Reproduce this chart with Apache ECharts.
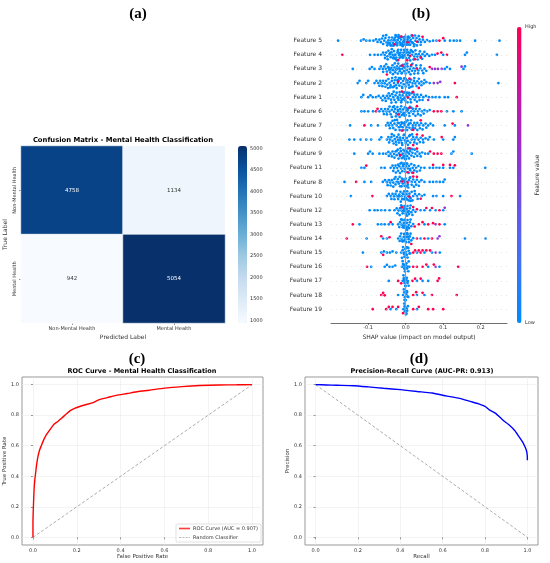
<!DOCTYPE html>
<html>
<head>
<meta charset="utf-8">
<script src="https://cdn.jsdelivr.net/npm/echarts@6.0.0/dist/echarts.min.js"></script>
<style>
  html, body { margin: 0; padding: 0; background: #fff; }
  #chart { width: 550px; height: 563px; }
</style>
</head>
<body>
<div id="chart"></div>
<script>
// ---- (a) confusion matrix ----
var predLabels = ['Non-Mental Health', 'Mental Health'];
var trueLabels = ['Non-Mental Health', 'Mental Health'];
var cmValues = [[4758, 1134], [942, 5054]];
var cmTicks = [1000, 1500, 2000, 2500, 3000, 3500, 4000, 4500, 5000];

// ---- (b) SHAP summary ----
var featureNames = ['Feature 5', 'Feature 4', 'Feature 3', 'Feature 2', 'Feature 1', 'Feature 6', 'Feature 7',
  'Feature 0', 'Feature 9', 'Feature 11', 'Feature 8', 'Feature 10', 'Feature 12', 'Feature 13', 'Feature 14',
  'Feature 15', 'Feature 16', 'Feature 17', 'Feature 18', 'Feature 19'];
var shapTicks = [-0.1, 0.0, 0.1, 0.2];

// low feature value (blue) points per feature
var shapLow = [
  [-0.18, -0.119, -0.112, -0.105, -0.096, -0.086, -0.079, -0.075, -0.07, -0.066, -0.063, -0.06, -0.057, -0.054, -0.051, -0.049,
   -0.046, -0.044, -0.042, -0.04, -0.038, -0.036, -0.034, -0.032, -0.03, -0.028, -0.027, -0.025, -0.023, -0.021, -0.02,
   -0.018, -0.016, -0.014, -0.012, -0.011, -0.009, -0.007, -0.005, -0.003, -0.001, 0.001, 0.003, 0.005, 0.007, 0.009,
   0.012, 0.014, 0.017, 0.02, 0.023, 0.026, 0.029, 0.033, 0.037, 0.041, 0.046, 0.051, 0.057, 0.064, 0.073, 0.082,
   0.104, 0.118, 0.128, 0.136, 0.145, 0.185, 0.25],
  [-0.095, -0.083, -0.074, -0.065, -0.06, -0.056, -0.052, -0.049, -0.046, -0.043, -0.04, -0.038, -0.035, -0.033, -0.031,
   -0.029, -0.027, -0.025, -0.022, -0.02, -0.018, -0.016, -0.014, -0.012, -0.01, -0.008, -0.006, -0.004, -0.002, 0.0,
   0.002, 0.004, 0.006, 0.009, 0.011, 0.014, 0.017, 0.02, 0.023, 0.027, 0.031, 0.035, 0.04, 0.045, 0.051, 0.057, 0.063,
   0.07, 0.078, 0.1, 0.158, 0.163, 0.243],
  [-0.141, -0.096, -0.09, -0.083, -0.07, -0.066, -0.061, -0.057, -0.053, -0.05, -0.047, -0.044, -0.041, -0.038, -0.035,
   -0.033, -0.03, -0.028, -0.025, -0.023, -0.021, -0.018, -0.016, -0.014, -0.011, -0.009, -0.007, -0.004, -0.002, 0.0,
   0.003, 0.005, 0.008, 0.011, 0.014, 0.017, 0.021, 0.025, 0.029, 0.034, 0.039, 0.044, 0.05, 0.055, 0.104, 0.11, 0.118,
   0.154, 0.158],
  [-0.128, -0.123, -0.105, -0.1, -0.083, -0.078, -0.073, -0.068, -0.064, -0.06, -0.056, -0.052, -0.049, -0.046, -0.043,
   -0.04, -0.037, -0.034, -0.031, -0.029, -0.026, -0.024, -0.021, -0.019, -0.017, -0.014, -0.012, -0.01, -0.007, -0.005,
   -0.003, 0.0, 0.002, 0.005, 0.008, 0.011, 0.014, 0.018, 0.022, 0.026, 0.031, 0.036, 0.042, 0.048, 0.055, 0.064, 0.247],
  [-0.118, -0.113, -0.1, -0.094, -0.088, -0.079, -0.072, -0.066, -0.06, -0.055, -0.05, -0.046, -0.042, -0.039, -0.036,
   -0.033, -0.03, -0.027, -0.024, -0.021, -0.019, -0.016, -0.013, -0.011, -0.008, -0.006, -0.003, -0.001, 0.002, 0.004,
   0.007, 0.01, 0.013, 0.016, 0.019, 0.023, 0.027, 0.031, 0.036, 0.041, 0.047, 0.054, 0.062, 0.071, 0.08, 0.09, 0.104,
   0.113],
  [-0.118, -0.11, -0.1, -0.087, -0.07, -0.065, -0.06, -0.055, -0.051, -0.047, -0.043, -0.04, -0.037, -0.034, -0.031,
   -0.028, -0.025, -0.022, -0.02, -0.017, -0.015, -0.012, -0.01, -0.007, -0.005, -0.002, 0.0, 0.003, 0.006, 0.009, 0.012,
   0.015, 0.019, 0.023, 0.027, 0.032, 0.037, 0.043, 0.05, 0.057, 0.064, 0.11, 0.127, 0.149],
  [-0.148, -0.092, -0.074, -0.052, -0.048, -0.044, -0.04, -0.036, -0.033, -0.03, -0.027, -0.024, -0.021, -0.018, -0.016,
   -0.013, -0.011, -0.008, -0.006, -0.003, -0.001, 0.002, 0.004, 0.007, 0.01, 0.013, 0.016, 0.019, 0.023, 0.027, 0.031,
   0.036, 0.041, 0.047, 0.053, 0.06, 0.066, 0.073, 0.104, 0.131],
  [-0.15, -0.137, -0.12, -0.105, -0.092, -0.07, -0.065, -0.05, -0.046, -0.042, -0.038, -0.035, -0.032, -0.029, -0.026,
   -0.023, -0.02, -0.018, -0.015, -0.012, -0.01, -0.007, -0.005, -0.002, 0.0, 0.003, 0.006, 0.009, 0.012, 0.016, 0.02,
   0.024, 0.029, 0.034, 0.04, 0.046, 0.053, 0.06, 0.064, 0.075, 0.1, 0.127, 0.131],
  [-0.137, -0.1, -0.095, -0.088, -0.07, -0.06, -0.052, -0.046, -0.04, -0.035, -0.031, -0.027, -0.024, -0.021, -0.018,
   -0.015, -0.013, -0.01, -0.008, -0.006, -0.004, -0.002, 0.0, 0.002, 0.004, 0.006, 0.009, 0.012, 0.015, 0.018, 0.022,
   0.026, 0.031, 0.037, 0.044, 0.052, 0.06, 0.122, 0.127, 0.176],
  [-0.118, -0.11, -0.065, -0.056, -0.04, -0.035, -0.031, -0.027, -0.023, -0.02, -0.017, -0.014, -0.012, -0.009, -0.007,
   -0.005, -0.003, -0.001, 0.001, 0.003, 0.006, 0.009, 0.012, 0.015, 0.019, 0.023, 0.028, 0.034, 0.041, 0.05, 0.064,
   0.073, 0.082, 0.09, 0.1, 0.118, 0.127, 0.212],
  [-0.163, -0.11, -0.092, -0.061, -0.055, -0.05, -0.045, -0.041, -0.037, -0.033, -0.03, -0.027, -0.024, -0.021, -0.018,
   -0.015, -0.013, -0.01, -0.008, -0.005, -0.003, 0.0, 0.003, 0.006, 0.009, 0.012, 0.016, 0.02, 0.025, 0.03, 0.036,
   0.042, 0.05, 0.064, 0.073, 0.082, 0.091, 0.1, 0.104],
  [-0.146, -0.05, -0.045, -0.04, -0.035, -0.031, -0.027, -0.023, -0.02, -0.017, -0.014, -0.011, -0.009, -0.006, -0.004,
   -0.002, 0.0, 0.002, 0.004, 0.007, 0.01, 0.013, 0.016, 0.02, 0.025, 0.03, 0.036, 0.043, 0.05, 0.073, 0.082, 0.1, 0.145],
  [-0.096, -0.083, -0.075, -0.065, -0.055, -0.043, -0.03, -0.024, -0.019, -0.015, -0.011, -0.008, -0.005, -0.003, -0.001,
   0.001, 0.003, 0.005, 0.008, 0.011, 0.015, 0.02, 0.026, 0.04, 0.05, 0.065, 0.08, 0.1],
  [-0.123, -0.074, -0.065, -0.056, -0.045, -0.035, -0.02, -0.015, -0.011, -0.008, -0.005, -0.003, -0.001, 0.001, 0.003,
   0.005, 0.008, 0.011, 0.015, 0.02, 0.05, 0.104],
  [-0.104, -0.06, -0.05, -0.02, -0.015, -0.011, -0.008, -0.005, -0.003, -0.001, 0.001, 0.003, 0.005, 0.008, 0.011, 0.015,
   0.02, 0.04, 0.06, 0.158, 0.213],
  [-0.114, -0.065, -0.058, -0.05, -0.042, -0.035, -0.025, -0.012, -0.008, -0.005, -0.003, -0.001, 0.001, 0.003, 0.005,
   0.008, 0.012, 0.03, 0.05, 0.07, 0.091],
  [-0.092, -0.056, -0.05, -0.043, -0.035, -0.028, -0.01, -0.007, -0.004, -0.002, 0.0, 0.002, 0.004, 0.007, 0.01, 0.06,
   0.09],
  [-0.045, -0.008, -0.005, -0.003, -0.001, 0.001, 0.003, 0.005, 0.008, 0.03, 0.045, 0.06],
  [-0.02, -0.007, -0.004, -0.002, 0.0, 0.002, 0.004, 0.007, 0.03, 0.05],
  [-0.04, -0.025, -0.006, -0.003, -0.001, 0.001, 0.003, 0.006, 0.03]
];
// more low-value points in the dense middle of each row
var shapLowDense = [
  [-0.06, -0.052, -0.047, -0.043, -0.039, -0.035, -0.031, -0.029, -0.026, -0.024, -0.022, -0.019, -0.017, -0.015, -0.013,
   -0.01, -0.008, -0.006, -0.004, -0.002, 0.0, 0.002, 0.004, 0.006, 0.008, 0.01, 0.013, 0.016, 0.019, 0.022, 0.025, 0.03,
   0.035, 0.04],
  [-0.055, -0.048, -0.042, -0.037, -0.032, -0.028, -0.024, -0.021, -0.017, -0.013, -0.009, -0.005, -0.001, 0.003, 0.007,
   0.012, 0.016, 0.021, 0.026, 0.032, 0.038, 0.044, 0.05],
  [-0.06, -0.052, -0.045, -0.039, -0.034, -0.029, -0.024, -0.02, -0.015, -0.01, -0.006, -0.001, 0.004, 0.009, 0.013,
   0.018, 0.023, 0.028, 0.033, 0.04, 0.047],
  [-0.07, -0.062, -0.054, -0.047, -0.041, -0.036, -0.031, -0.027, -0.022, -0.018, -0.013, -0.009, -0.004, 0.0, 0.004,
   0.009, 0.013, 0.018, 0.023, 0.029, 0.035, 0.042, 0.05],
  [-0.062, -0.053, -0.045, -0.038, -0.032, -0.026, -0.021, -0.016, -0.012, -0.007, -0.003, 0.001, 0.005, 0.009, 0.014,
   0.019, 0.024, 0.03, 0.037, 0.045],
  [-0.058, -0.05, -0.043, -0.037, -0.031, -0.026, -0.021, -0.016, -0.012, -0.007, -0.003, 0.001, 0.005, 0.01, 0.015,
   0.02, 0.026, 0.033, 0.04, 0.048],
  [-0.042, -0.035, -0.029, -0.023, -0.018, -0.013, -0.009, -0.004, 0.0, 0.005, 0.009, 0.014, 0.019, 0.025, 0.031, 0.038,
   0.045, 0.055],
  [-0.044, -0.037, -0.031, -0.025, -0.019, -0.014, -0.009, -0.004, 0.001, 0.006, 0.011, 0.017, 0.023, 0.03, 0.038, 0.047],
  [-0.045, -0.037, -0.03, -0.024, -0.019, -0.014, -0.01, -0.006, -0.002, 0.001, 0.005, 0.009, 0.013, 0.018, 0.024, 0.031,
   0.04],
  [-0.033, -0.026, -0.02, -0.015, -0.011, -0.007, -0.003, 0.0, 0.004, 0.008, 0.012, 0.017, 0.023, 0.03, 0.038],
  [-0.048, -0.04, -0.033, -0.027, -0.021, -0.016, -0.011, -0.006, -0.002, 0.002, 0.007, 0.011, 0.016, 0.022, 0.028, 0.035],
  [-0.038, -0.03, -0.024, -0.018, -0.013, -0.008, -0.004, 0.0, 0.004, 0.008, 0.013, 0.018, 0.024, 0.032],
  [-0.022, -0.016, -0.012, -0.009, -0.006, -0.004, -0.002, 0.0, 0.002, 0.004, 0.006, 0.009, 0.013, 0.018],
  [-0.017, -0.012, -0.009, -0.006, -0.004, -0.002, 0.0, 0.002, 0.004, 0.006, 0.009, 0.013],
  [-0.016, -0.012, -0.009, -0.006, -0.004, -0.002, 0.0, 0.002, 0.004, 0.006, 0.009, 0.013],
  [-0.01, -0.007, -0.004, -0.002, 0.0, 0.002, 0.004, 0.007, 0.01],
  [-0.008, -0.005, -0.003, -0.001, 0.001, 0.003, 0.005, 0.008],
  [-0.006, -0.004, -0.002, 0.0, 0.002, 0.004, 0.006],
  [-0.005, -0.003, -0.001, 0.001, 0.003, 0.005],
  [-0.004, -0.002, 0.0, 0.002, 0.004]
];
// high feature value (red) points per feature
var shapHigh = [
  [-0.03, -0.012, 0.005, 0.018, 0.03, 0.045, 0.09, 0.1],
  [-0.169, -0.02, 0.004, 0.012, 0.025, 0.04, 0.085, 0.095, 0.11],
  [-0.05, -0.01, 0.015, 0.03, 0.064],
  [-0.02, 0.01, 0.035, 0.131],
  [-0.01, 0.005, 0.02, 0.136],
  [-0.079, -0.075, -0.02, 0.01, 0.03, 0.075, 0.085, 0.095],
  [-0.11, -0.01, 0.02, 0.04, 0.125],
  [0.02, 0.03, 0.045, 0.096],
  [-0.015, 0.01, 0.03, 0.065, 0.075, 0.085, 0.095],
  [-0.105, 0.005, 0.02, 0.073, 0.1, 0.118, 0.131],
  [-0.132, -0.01, 0.005, 0.02, 0.03],
  [-0.089, 0.01, 0.04, 0.122],
  [-0.01, 0.02, 0.03, 0.055, 0.07, 0.09],
  [-0.141, -0.04, 0.024, 0.035, 0.045, 0.06, 0.073, 0.09],
  [-0.157, -0.065, -0.043, 0.015, 0.03, 0.05, 0.07],
  [-0.06, 0.02, 0.025, 0.035, 0.04, 0.045, 0.055, 0.065],
  [-0.103, 0.02, 0.03, 0.045, 0.055, 0.075, 0.14],
  [-0.02, -0.012, 0.018, 0.025, 0.04, 0.085, 0.089],
  [-0.065, -0.06, -0.056, 0.02, 0.028, 0.045, 0.07, 0.136],
  [-0.088, -0.052, -0.045, -0.035, -0.02, -0.007, 0.02, 0.035, 0.06, 0.073, 0.1]
];
// mid feature value (purple) points per feature
var shapMid = [
  [], [], [0.07, 0.078, 0.086, 0.096, 0.149], [0.075, 0.085, 0.092], [0.06], [], [0.166], [], [], [], [], [],
  [0.104], [0.08], [0.085, 0.09], [0.08], [0.08], [], [], []
];

// ---- (c) ROC ----
var rocFpr = [0, 0, 0.002, 0.005, 0.008, 0.012, 0.017, 0.023, 0.03, 0.038, 0.048, 0.06, 0.075, 0.09, 0.1, 0.115, 0.13,
  0.15, 0.17, 0.19, 0.21, 0.24, 0.27, 0.3, 0.34, 0.38, 0.43, 0.48, 0.53, 0.6, 0.68, 0.76, 0.85, 0.93, 1.0];
var rocTpr = [0, 0.1, 0.2, 0.31, 0.37, 0.42, 0.48, 0.53, 0.57, 0.6, 0.635, 0.67, 0.7, 0.73, 0.745, 0.76, 0.78, 0.805,
  0.83, 0.845, 0.855, 0.868, 0.88, 0.9, 0.915, 0.93, 0.942, 0.955, 0.963, 0.977, 0.987, 0.994, 0.998, 0.999, 1.0];

// ---- (d) Precision-Recall ----
var prRecall = [0, 0.05, 0.1, 0.18, 0.25, 0.32, 0.4, 0.48, 0.55, 0.62, 0.68, 0.73, 0.77, 0.8, 0.82, 0.85, 0.885, 0.91,
  0.94, 0.96, 0.977, 0.988, 0.995, 0.999, 1.0];
var prPrecision = [1.0, 0.998, 0.996, 0.993, 0.985, 0.976, 0.967, 0.955, 0.945, 0.925, 0.91, 0.89, 0.874, 0.858, 0.835,
  0.812, 0.767, 0.74, 0.7, 0.66, 0.625, 0.595, 0.57, 0.54, 0.505];
var unitTicks = [0, 0.2, 0.4, 0.6, 0.8, 1.0];

var blues = ['#f7fbff', '#deebf7', '#c6dbef', '#9ecae1', '#6baed6', '#4292c6', '#2171b5', '#08519c', '#08306b'];
var shapColors = ['#008bfb', '#3f74f6', '#6a52ea', '#9a2ccb', '#cc149a', '#ff0052'];
var FONT = 'DejaVu Sans';
var SERIF = 'Liberation Serif';

var cmData = [];
for (var r = 0; r < trueLabels.length; r++) {
  for (var c = 0; c < predLabels.length; c++) {
    var v = cmValues[r][c];
    cmData.push({ value: [c, r, v], label: { color: v > 3000 ? '#ffffff' : '#333333' } });
  }
}

var shapData = [];
featureNames.forEach(function (name, i) {
  shapLow[i].concat(shapLowDense[i]).forEach(function (s) { shapData.push([s, name, 0]); });
  shapMid[i].forEach(function (s) { shapData.push([s, name, 0.55]); });
  shapHigh[i].forEach(function (s) { shapData.push([s, name, 1]); });
});

function pairs(xs, ys) {
  return xs.map(function (x, i) { return [x, ys[i]]; });
}

var tickLabel = { fontFamily: FONT, fontSize: 5, color: '#333' };
var fmt1 = function (v) { return v.toFixed(1); };

function unitAxis(gridIndex, name, nameGap) {
  return {
    type: 'value', gridIndex: gridIndex, min: -0.05, max: 1.05,
    name: name, nameLocation: 'middle', nameGap: nameGap,
    nameTextStyle: { fontFamily: FONT, fontSize: 5.5, color: '#333' },
    axisLine: { show: false },
    axisTick: { show: true, length: 2, lineStyle: { color: '#555', width: 0.6 }, customValues: unitTicks },
    axisLabel: Object.assign({ margin: 3, formatter: fmt1, customValues: unitTicks }, tickLabel),
    splitLine: { show: true, lineStyle: { color: '#ebebeb', width: 0.6 } }
  };
}

var panelLabel = { fontFamily: SERIF, fontSize: 15, fontWeight: 'bold', color: '#000' };

var chart = echarts.init(document.getElementById('chart'));

var option = {
  backgroundColor: '#fff',
  animation: false,
  textStyle: { fontFamily: FONT },
  title: [
    { text: '(a)', left: 133, top: 2, textAlign: 'center', textStyle: panelLabel },
    { text: '(b)', left: 416, top: 2, textAlign: 'center', textStyle: panelLabel },
    { text: '(c)', left: 132, top: 347, textAlign: 'center', textStyle: panelLabel },
    { text: '(d)', left: 414, top: 347, textAlign: 'center', textStyle: panelLabel },
    { text: 'Confusion Matrix - Mental Health Classification', left: 123, top: 137, textAlign: 'center', padding: 0,
      textStyle: { fontFamily: FONT, fontSize: 6.8, fontWeight: 'bold', color: '#000' } },
    { text: 'ROC Curve - Mental Health Classification', left: 142, top: 368, textAlign: 'center', padding: 0,
      textStyle: { fontFamily: FONT, fontSize: 6.5, fontWeight: 'bold', color: '#000' } },
    { text: 'Precision-Recall Curve (AUC-PR: 0.913)', left: 422, top: 368, textAlign: 'center', padding: 0,
      textStyle: { fontFamily: FONT, fontSize: 6.5, fontWeight: 'bold', color: '#000' } }
  ],
  grid: [
    { left: 21, top: 146, width: 204, height: 177 },
    { left: 238, top: 146, width: 9, height: 177 },
    { left: 331, top: 33.6, width: 176, height: 282.6 },
    { left: 22, top: 377, width: 241, height: 168, show: true, borderColor: '#999', borderWidth: 1 },
    { left: 305, top: 377, width: 233, height: 168, show: true, borderColor: '#999', borderWidth: 1 }
  ],
  xAxis: [
    { type: 'category', gridIndex: 0, data: predLabels, position: 'bottom',
      name: 'Predicted Label', nameLocation: 'middle', nameGap: 11,
      nameTextStyle: { fontFamily: FONT, fontSize: 6, color: '#333' },
      axisLine: { show: false },
      axisTick: { show: true, alignWithLabel: true, length: 2, lineStyle: { color: '#555', width: 0.6 } },
      axisLabel: Object.assign({ margin: 3 }, tickLabel),
      splitLine: { show: false } },
    { type: 'value', gridIndex: 1, show: false, min: 0, max: 1 },
    { type: 'value', gridIndex: 2, min: -0.199, max: 0.27, offset: 6.8,
      name: 'SHAP value (impact on model output)', nameLocation: 'middle', nameGap: 9,
      nameTextStyle: { fontFamily: FONT, fontSize: 6, color: '#333' },
      axisLine: { show: true, lineStyle: { color: '#333', width: 0.7 } },
      axisTick: { show: true, length: 2, lineStyle: { color: '#333', width: 0.6 }, customValues: shapTicks },
      axisLabel: Object.assign({ margin: 2, formatter: fmt1, customValues: shapTicks }, tickLabel),
      splitLine: { show: false } },
    unitAxis(3, 'False Positive Rate', 9),
    unitAxis(4, 'Recall', 9)
  ],
  yAxis: [
    { type: 'category', gridIndex: 0, data: trueLabels, inverse: true,
      name: 'True Label', nameLocation: 'middle', nameGap: 13,
      nameTextStyle: { fontFamily: FONT, fontSize: 6, color: '#333' },
      axisLine: { show: false },
      axisTick: { show: true, alignWithLabel: true, length: 2, lineStyle: { color: '#555', width: 0.6 } },
      axisLabel: Object.assign({ rotate: 90, margin: 4 }, tickLabel),
      splitLine: { show: false } },
    { type: 'value', gridIndex: 1, position: 'right', min: 942, max: 5054,
      axisLine: { show: false },
      axisTick: { show: true, length: 2, lineStyle: { color: '#555', width: 0.6 }, customValues: cmTicks },
      axisLabel: Object.assign({ margin: 3, customValues: cmTicks, formatter: function (v) { return String(v); } }, tickLabel),
      splitLine: { show: false } },
    { type: 'category', gridIndex: 2, data: featureNames, inverse: true,
      jitter: 13, jitterOverlap: false, jitterMargin: 0.2,
      axisLine: { show: false }, axisTick: { show: false },
      axisLabel: { fontFamily: FONT, fontSize: 6, color: '#333', margin: 9 },
      splitLine: { show: false } },
    unitAxis(3, 'True Positive Rate', 11),
    unitAxis(4, 'Precision', 11)
  ],
  visualMap: [
    { type: 'continuous', seriesIndex: 0, dimension: 2, min: 942, max: 5054,
      inRange: { color: blues }, calculable: false, orient: 'vertical',
      left: 238, top: 146, itemWidth: 9, itemHeight: 177, padding: 0, text: null, showLabel: false, hoverLink: false },
    { type: 'continuous', seriesIndex: 2, dimension: 2, min: 0, max: 1,
      inRange: { color: shapColors }, calculable: false, orient: 'vertical',
      left: 517, top: 27, itemWidth: 4.5, itemHeight: 296, padding: 0, text: null, showLabel: false, hoverLink: false }
  ],
  legend: {
    data: [
      { name: 'ROC Curve (AUC = 0.907)', icon: 'path://M0,0h20v3h-20z' },
      { name: 'Random Classifier', icon: 'path://M0,0h4v1h-4z M6,0h4v1h-4z M12,0h4v1h-4z M18,0h2v1h-2z' }
    ],
    orient: 'vertical', left: 176, top: 524, itemGap: 4, itemWidth: 11, itemHeight: 5,
    padding: [2, 3, 2, 3], borderColor: '#ccc', borderWidth: 0.6, borderRadius: 1, backgroundColor: '#fff',
    textStyle: { fontFamily: FONT, fontSize: 5, color: '#333', padding: [0, 0, 0, -2] }
  },
  graphic: [
    { type: 'text', x: 525, y: 27, style: { text: 'High', fontFamily: FONT, fontSize: 5, fill: '#333', verticalAlign: 'middle' } },
    { type: 'text', x: 525, y: 323, style: { text: 'Low', fontFamily: FONT, fontSize: 5, fill: '#333', verticalAlign: 'middle' } },
    { type: 'text', x: 537, y: 175, rotation: Math.PI / 2,
      style: { text: 'Feature value', fontFamily: FONT, fontSize: 6, fill: '#333', align: 'center', verticalAlign: 'middle' } }
  ],
  series: [
    { type: 'heatmap', xAxisIndex: 0, yAxisIndex: 0, data: cmData,
      itemStyle: { borderColor: '#fff', borderWidth: 0.6 },
      label: { show: true, fontFamily: FONT, fontSize: 5.5 } },
    // guide lines for the SHAP panel
    { type: 'scatter', xAxisIndex: 2, yAxisIndex: 2, data: [], silent: true, z: 1,
      markLine: { silent: true, symbol: 'none', label: { show: false },
        data: [{ xAxis: 0, lineStyle: { color: '#999', width: 1.2, type: 'solid' } }].concat(
          featureNames.map(function (n) { return { yAxis: n, lineStyle: { color: '#ccc', width: 0.5, type: [1, 4] } }; })) } },
    { type: 'scatter', xAxisIndex: 2, yAxisIndex: 2, data: shapData, symbolSize: 2.7, z: 3,
      itemStyle: { opacity: 1 } },
    { name: 'ROC Curve (AUC = 0.907)', type: 'line', xAxisIndex: 3, yAxisIndex: 3,
      data: pairs(rocFpr, rocTpr), showSymbol: false, symbol: 'none', smooth: 0.2,
      lineStyle: { color: '#ff0000', width: 1.4 }, itemStyle: { color: '#ff3b3b' }, z: 3 },
    { name: 'Random Classifier', type: 'line', xAxisIndex: 3, yAxisIndex: 3,
      data: [[0, 0], [1, 1]], showSymbol: false, symbol: 'none',
      lineStyle: { color: '#888', width: 0.7, type: [3, 2] }, itemStyle: { color: '#777' }, z: 2 },
    { name: 'PR Curve', type: 'line', xAxisIndex: 4, yAxisIndex: 4,
      data: pairs(prRecall, prPrecision), showSymbol: false, symbol: 'none', smooth: 0.2,
      lineStyle: { color: '#0000ff', width: 1.4 }, itemStyle: { color: '#0000ff' }, z: 3 },
    { name: 'PR Baseline', type: 'line', xAxisIndex: 4, yAxisIndex: 4,
      data: [[0, 1], [1, 0]], showSymbol: false, symbol: 'none',
      lineStyle: { color: '#888', width: 0.7, type: [3, 2] }, itemStyle: { color: '#888' }, z: 2 }
  ]
};

chart.setOption(option);
</script>
</body>
</html>
